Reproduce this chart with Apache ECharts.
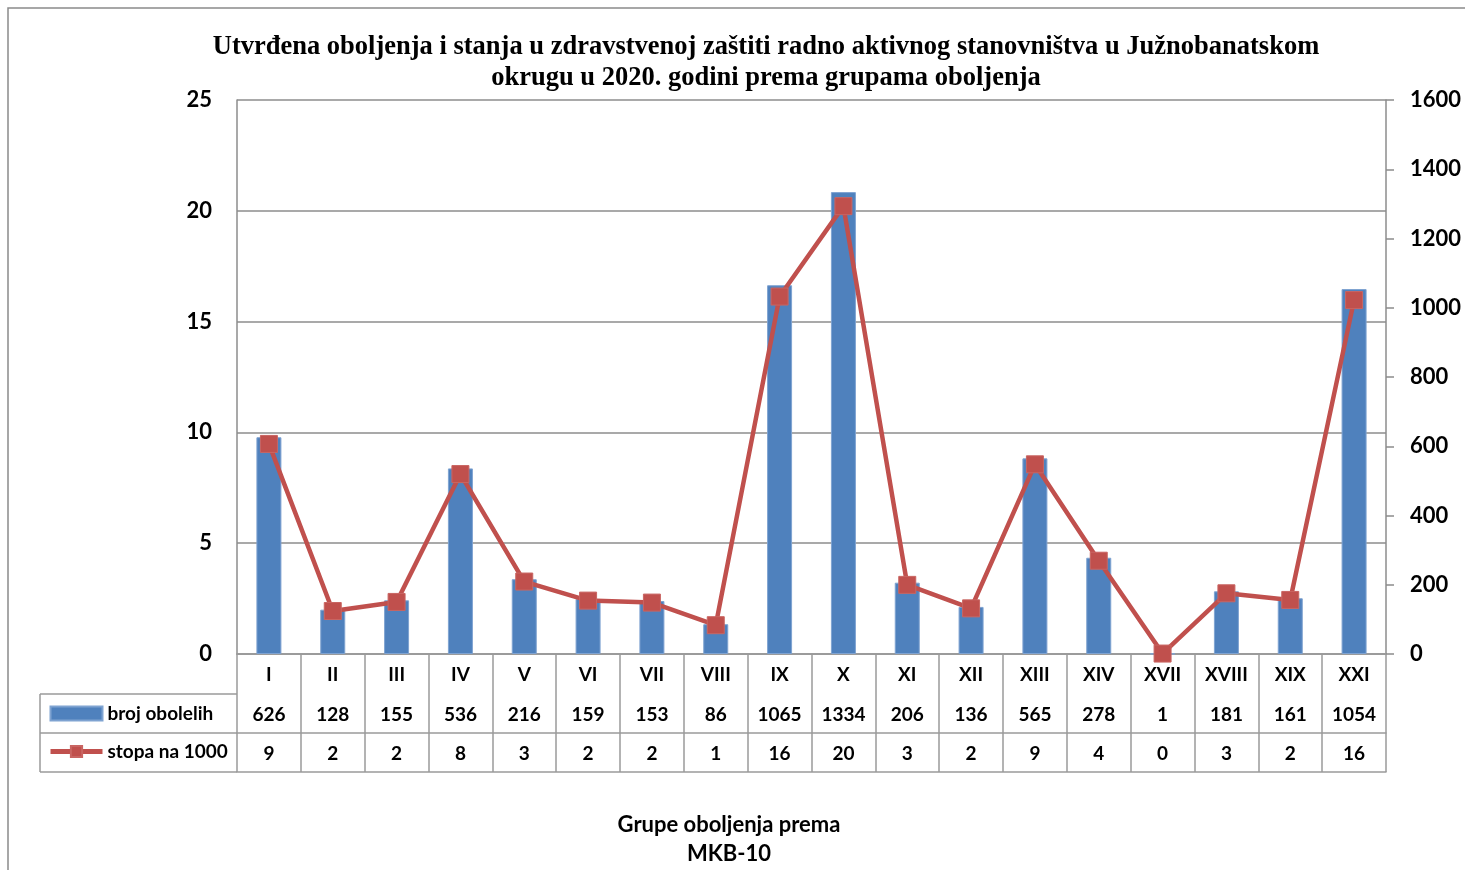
<!DOCTYPE html>
<html><head><meta charset="utf-8">
<script src="https://cdn.jsdelivr.net/npm/echarts@6/dist/echarts.min.js"></script>
<style>html,body{margin:0;padding:0;background:#fff}#c{width:1465px;height:870px}</style>
</head><body><div id="c"></div>
<script>
const categories = ['I','II','III','IV','V','VI','VII','VIII','IX','X','XI','XII','XIII','XIV','XVII','XVIII','XIX','XXI'];
const brojObolelih = [626,128,155,536,216,159,153,86,1065,1334,206,136,565,278,1,181,161,1054];
const stopaNa1000 = [9.48,1.94,2.35,8.12,3.27,2.41,2.32,1.30,16.13,20.21,3.12,2.06,8.56,4.21,0.02,2.74,2.44,15.97];
const leftTicks = [0,5,10,15,20,25];
const rightTicks = [0,200,400,600,800,1000,1200,1400,1600];

const FONT = 'Lato';
const GRID = '#8c8c8c';
const TBL = '#9a9a9a';
const TFS = 19;
const chart = echarts.init(document.getElementById('c'), null, {renderer:'canvas'});
const tableAxis = (offset, fmt, showLine) => ({
  type:'category', data:categories, position:'bottom', offset:offset, gridIndex:0,
  axisLine:{show:showLine, lineStyle:{color:TBL, width:1.5}},
  axisTick:{show:false}, splitLine:{show:false},
  axisLabel:{show:!!fmt, interval:0, margin:11, formatter:fmt, fontFamily:FONT, fontWeight:'bold', fontSize:TFS, color:'#000'}
});
chart.setOption({
  animation:false,
  title:[{
    text:'Utvrđena oboljenja i stanja u zdravstvenoj zaštiti radno aktivnog stanovništva u Južnobanatskom\nokrugu u 2020. godini prema grupama oboljenja',
    left:761, top:27, textAlign:'center',
    textStyle:{fontFamily:'Liberation Serif', fontWeight:'bold', fontSize:26.5, lineHeight:31, color:'#000', align:'center'}
  },{
    text:'Grupe oboljenja prema\nMKB-10',
    left:724, top:805, textAlign:'center',
    textStyle:{fontFamily:FONT, fontWeight:'bold', fontSize:22, lineHeight:29, color:'#000', align:'center'}
  }],
  legend:{
    orient:'vertical', left:43, top:699, itemGap:19, itemWidth:52, itemHeight:14,
    textStyle:{fontFamily:FONT, fontWeight:'bold', fontSize:TFS, color:'#000'},
    lineStyle:{width:5},
    data:[{name:'broj obolelih', icon:'rect'},{name:'stopa na 1000'}]
  },
  grid:{left:237, right:79, top:100, bottom:216, containLabel:false},
  xAxis:[
    {type:'category', data:categories, position:'bottom', gridIndex:0,
     axisLine:{show:true, lineStyle:{color:TBL, width:1.5}},
     axisTick:{show:true, interval:0, length:118, lineStyle:{color:TBL, width:1.5}},
     axisLabel:{interval:0, margin:11, fontFamily:FONT, fontWeight:'bold', fontSize:TFS, color:'#000'},
     splitLine:{show:false}},
    tableAxis(40, (v,i)=>String(brojObolelih[i]), true),
    tableAxis(79, (v,i)=>String(Math.round(stopaNa1000[i])), true),
    tableAxis(118, null, true)
  ],
  yAxis:[
    {type:'value', min:leftTicks[0], max:leftTicks[leftTicks.length-1], interval:5, position:'left',
     axisLine:{show:true, lineStyle:{color:GRID, width:1.5}}, axisTick:{show:false},
     axisLabel:{margin:25, fontFamily:FONT, fontWeight:'bold', fontSize:22, color:'#000', formatter:v=>String(v)},
     splitLine:{show:true, lineStyle:{color:GRID, width:1.5}}},
    {type:'value', min:rightTicks[0], max:rightTicks[rightTicks.length-1], interval:200, position:'right',
     axisLine:{show:true, lineStyle:{color:GRID, width:1.5}},
     axisTick:{show:true, inside:false, length:8, lineStyle:{color:GRID, width:1.5}},
     axisLabel:{margin:24, fontFamily:FONT, fontWeight:'bold', fontSize:22, color:'#000', formatter:v=>String(v)},
     splitLine:{show:false}}
  ],
  series:[
    {name:'broj obolelih', type:'bar', xAxisIndex:0, yAxisIndex:1, data:brojObolelih, barWidth:25,
     itemStyle:{color:'#4F81BD', borderColor:'#7FA3D1', borderWidth:1}},
    {name:'stopa na 1000', type:'line', xAxisIndex:0, yAxisIndex:0, data:stopaNa1000,
     symbol:'rect', symbolSize:17, lineStyle:{color:'#C0504D', width:4.5},
     itemStyle:{color:'#C0504D', borderColor:'#C96562', borderWidth:1}, z:5}
  ],
  graphic:[
    {type:'rect', shape:{x:8, y:8, width:1480, height:900}, style:{fill:'none', stroke:'#8a8a8a', lineWidth:1.5}, silent:true},
    {type:'line', shape:{x1:40, y1:694, x2:237, y2:694}, style:{stroke:TBL, lineWidth:1.5}},
    {type:'line', shape:{x1:40, y1:733, x2:237, y2:733}, style:{stroke:TBL, lineWidth:1.5}},
    {type:'line', shape:{x1:40, y1:772, x2:237, y2:772}, style:{stroke:TBL, lineWidth:1.5}},
    {type:'line', shape:{x1:40, y1:694, x2:40, y2:772}, style:{stroke:TBL, lineWidth:1.5}}
  ]
});
</script></body></html>
